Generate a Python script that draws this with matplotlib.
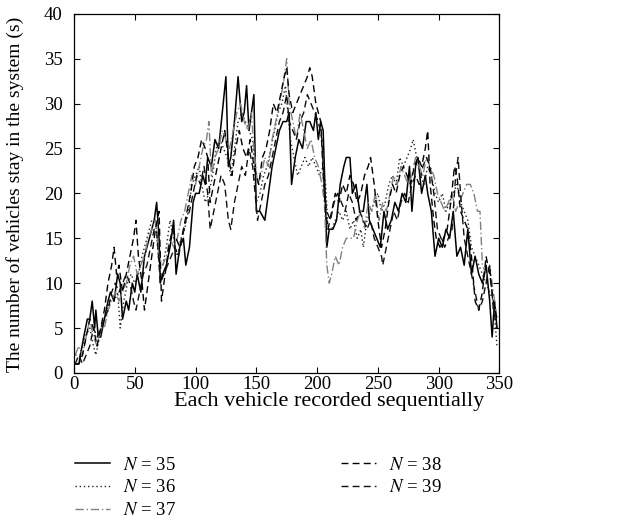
import matplotlib
matplotlib.use("Agg")
import matplotlib.pyplot as plt

plt.rcParams["font.family"] = ["Liberation Serif", "DejaVu Serif"]
plt.rcParams["mathtext.fontset"] = "stix"

# breakpoints (x = vehicle index, y = vehicles in system)
x35 = [1, 4, 8, 11, 13, 15, 17, 18, 20, 22, 25, 28, 30, 33, 36, 38, 40, 43, 45, 48, 50, 52, 55, 58,
       62, 66, 68, 70, 71, 73, 76, 79, 82, 84, 87, 90, 92, 95, 98, 100, 103, 106, 108, 110, 113, 116,
       119, 122, 125, 127, 129, 132, 135, 138, 140, 142, 144, 146, 148, 150, 153, 157, 160, 163, 166,
       169, 172, 175, 177, 179, 182, 185, 188, 191, 194, 197, 199, 201, 203, 205, 208, 210, 213, 216,
       219, 222, 224, 227, 229, 232, 235, 238, 241, 243, 246, 249, 252, 255, 258, 261, 264, 267, 270,
       273, 276, 278, 281, 283, 286, 289, 291, 294, 297, 300, 303, 306, 309, 312, 315, 318, 321, 324,
       327, 330, 333, 336, 339, 342, 344, 346, 348]
y35 = [1, 1, 4, 6, 6, 8, 5, 7, 4, 4, 6, 8, 9, 8, 11, 10, 6, 8, 7, 10, 9, 11, 9, 13,
       15, 17, 19, 15, 10, 11, 12, 14, 17, 11, 14, 15, 12, 14, 19, 20, 20, 22, 21, 24, 23, 26,
       25, 29, 33, 23, 24, 28, 33, 28, 29, 32, 27, 29, 31, 18, 18, 17, 20, 23, 25,
       27, 28, 28, 29, 21, 24, 26, 25, 28, 28, 27, 29, 26, 28, 27, 14, 16, 16, 17,
       21, 23, 24, 24, 20, 21, 18, 18, 21, 17, 16, 15, 14, 18, 16, 17, 19, 18, 20,
       19, 23, 18, 23, 24, 20, 22, 20, 18, 13, 15, 14, 16, 15, 18, 13, 14, 12, 16,
       11, 13, 11, 10, 12, 8, 4, 8, 5]

x36 = [1, 5, 9, 13, 16, 18, 21, 25, 29, 33, 36, 38, 41, 44, 47, 50, 53, 56, 60, 64, 67, 70, 73, 76,
       79, 82, 85, 88, 91, 94, 97, 100, 103, 105, 108, 111, 114, 117, 120, 123, 126, 129, 132, 135,
       138, 141, 144, 147, 150, 153, 156, 159, 162, 165, 168, 171, 174, 176, 178, 181, 184, 187, 190,
       193, 196, 199, 202, 205, 207, 209, 212, 215, 218, 221, 224, 227, 230, 233, 236, 238, 241, 244,
       247, 250, 253, 256, 259, 262, 265, 268, 271, 274, 277, 279, 282, 285, 288, 291, 294, 297, 300,
       303, 306, 309, 312, 315, 318, 321, 324, 327, 330, 333, 336, 339, 342, 345, 348]
y36 = [2, 2, 4, 5, 3, 2, 4, 6, 8, 8, 9, 5, 8, 10, 11, 10, 11, 13, 15, 17, 17, 12, 12, 14,
       17, 15, 13, 15, 16, 18, 21, 22, 23, 21, 19, 20, 22, 25, 26, 25, 24, 22, 25, 28,
       29, 28, 27, 26, 19, 20, 22, 23, 25, 27, 29, 30, 32, 29, 26, 24, 22, 23, 24,
       23, 24, 23, 22, 23, 21, 16, 16, 17, 18, 17, 18, 16, 17, 15, 16, 14, 17, 18,
       19, 20, 18, 19, 21, 22, 21, 24, 23, 24, 25, 26, 24, 22, 21, 23, 22, 20, 19,
       20, 18, 19, 20, 21, 19, 18, 17, 14, 13, 12, 11, 10, 9, 8, 3]

x37 = [1, 4, 7, 10, 13, 16, 19, 22, 25, 28, 31, 34, 37, 40, 43, 46, 49, 52, 55, 58, 61, 64, 67, 70,
       73, 76, 79, 82, 85, 88, 91, 94, 97, 100, 103, 106, 109, 111, 113, 116, 119, 122, 125, 128,
       131, 134, 137, 140, 143, 146, 148, 151, 154, 157, 160, 163, 166, 169, 172, 175, 177, 180, 183,
       186, 189, 192, 195, 198, 201, 204, 206, 208, 210, 212, 215, 218, 221, 224, 227, 230, 233, 236,
       239, 242, 245, 248, 251, 254, 257, 260, 263, 266, 269, 272, 275, 278, 281, 284, 287, 290, 293,
       296, 299, 302, 305, 308, 311, 314, 317, 320, 323, 326, 329, 332, 334, 336, 339, 342, 345, 348]
y37 = [2, 3, 2, 4, 6, 4, 3, 5, 5, 7, 8, 9, 8, 9, 10, 12, 13, 11, 12, 13, 15, 16, 17, 13,
       12, 13, 15, 14, 15, 17, 18, 20, 22, 21, 23, 25, 26, 28, 22, 24, 25, 27, 26, 25,
       27, 29, 30, 28, 27, 29, 25, 21, 22, 24, 23, 26, 28, 30, 32, 35, 30, 28, 26,
       29, 27, 25, 26, 24, 23, 21, 19, 12, 10, 11, 13, 12, 14, 15, 15, 15, 17, 18,
       16, 19, 18, 20, 17, 19, 18, 20, 22, 21, 23, 22, 21, 22, 24, 23, 22, 24, 23,
       22, 20, 19, 18, 19, 20, 18, 19, 20, 21, 21, 20, 18, 18, 12, 11, 12, 9, 6]

x38 = [1, 4, 7, 10, 13, 16, 19, 22, 25, 28, 31, 33, 35, 37, 40, 43, 46, 49, 51, 53, 56, 58, 61, 64,
       67, 70, 72, 75, 78, 81, 84, 87, 90, 93, 96, 99, 102, 105, 108, 110, 112, 115, 118, 121, 124,
       127, 130, 133, 136, 139, 142, 145, 148, 150, 152, 155, 158, 161, 164, 167, 170, 173, 175, 177,
       180, 183, 186, 189, 192, 194, 196, 199, 201, 203, 205, 207, 209, 212, 215, 218, 221, 224, 227,
       230, 233, 236, 239, 242, 244, 247, 250, 253, 256, 259, 262, 265, 268, 271, 274, 277, 280, 283,
       286, 289, 291, 293, 296, 298, 301, 304, 307, 310, 313, 315, 318, 321, 324, 327, 330, 333, 336,
       339, 342, 345, 348]
y38 = [1, 1, 2, 4, 6, 5, 3, 5, 7, 10, 12, 14, 11, 12, 9, 11, 13, 15, 17, 13, 10, 7, 10, 13,
       16, 18, 8, 11, 14, 16, 15, 14, 16, 18, 20, 23, 24, 26, 25, 24, 19, 21, 23, 25, 27,
       24, 22, 25, 27, 25, 24, 26, 23, 22, 21, 24, 25, 27, 30, 29, 31, 33, 34, 31,
       29, 30, 31, 32, 33, 34, 33, 30, 29, 28, 22, 18, 16, 18, 20, 19, 21, 20, 22,
       21, 19, 20, 22, 23, 24, 21, 17, 14, 16, 19, 21, 20, 22, 23, 22, 21, 23, 24,
       23, 25, 27, 21, 17, 15, 14, 15, 16, 19, 23, 22, 18, 17, 16, 13, 8, 7, 9,
       13, 11, 8, 6]

x39 = [1, 4, 7, 10, 13, 16, 19, 22, 25, 28, 31, 34, 37, 40, 43, 46, 49, 51, 54, 57, 60, 63, 66, 68,
       71, 74, 77, 80, 83, 86, 89, 92, 95, 98, 101, 104, 107, 110, 112, 115, 118, 121, 124, 127, 129,
       132, 135, 138, 141, 144, 147, 149, 151, 154, 157, 160, 163, 166, 169, 172, 175, 177, 180, 183,
       186, 189, 192, 195, 198, 201, 204, 206, 208, 211, 214, 217, 220, 223, 226, 229, 232, 235, 238,
       241, 244, 247, 250, 253, 254, 257, 260, 263, 266, 269, 272, 275, 278, 281, 284, 287, 290, 293,
       296, 299, 302, 305, 308, 311, 314, 316, 318, 321, 324, 327, 330, 333, 336, 339, 342, 345, 348]
y39 = [1, 2, 1, 2, 3, 5, 4, 5, 6, 7, 9, 10, 9, 10, 11, 10, 8, 7, 9, 11, 12, 14, 16, 16,
       10, 11, 12, 13, 14, 13, 15, 17, 18, 20, 22, 21, 23, 20, 16, 18, 20, 22, 21, 17, 16,
       19, 21, 23, 22, 25, 23, 20, 17, 19, 21, 22, 24, 26, 28, 29, 31, 28, 27, 26,
       28, 29, 31, 30, 29, 28, 26, 20, 18, 17, 19, 20, 19, 18, 20, 19, 17, 18, 17,
       16, 17, 15, 14, 13, 12, 14, 16, 18, 17, 19, 20, 19, 21, 22, 21, 23, 24, 23,
       20, 16, 15, 14, 15, 16, 22, 24, 20, 15, 13, 11, 9, 7, 8, 10, 12, 7, 5]

labels = ["$N$ = 35", "$N$ = 36", "$N$ = 37", "$N$ = 38", "$N$ = 39"]

fig = plt.figure(figsize=(6.35, 5.32), dpi=100)
ax = fig.add_axes([0.1165, 0.299, 0.670, 0.675])

ax.plot(x35, y35, color="black", lw=1.1, ls="-", label=labels[0])
ax.plot(x36, y36, color="#222222", lw=1.0, ls=(0, (1, 2)), label=labels[1])
ax.plot(x37, y37, color="#808080", lw=1.0, ls=(0, (6, 2, 1, 2)), label=labels[2])
ax.plot(x38, y38, color="black", lw=1.0, ls=(0, (5, 3)), label=labels[3])
ax.plot(x39, y39, color="#111111", lw=1.0, ls=(0, (5, 3)), label=labels[4])

ax.set_xlim(0, 350)
ax.set_ylim(0, 40)
ax.set_xticks(range(0, 351, 50))
ax.set_yticks(range(0, 41, 5))
ax.tick_params(direction="in", top=True, right=True, labelsize=13.5, length=4)
ax.tick_params(axis="x", pad=2.5)
ax.tick_params(axis="y", pad=8)
for s in ax.spines.values():
    s.set_linewidth(0.9)

ax.set_xlabel("Each vehicle recorded sequentially", fontsize=16)
ax.set_ylabel("The number of vehicles stay in the system (s)", fontsize=14)
ax.xaxis.set_label_coords(0.6, -0.053)
ax.yaxis.set_label_coords(-0.118, 0.496)

fig.legend(loc="upper left", bbox_to_anchor=(0.106, 0.156), ncol=2, frameon=False,
           fontsize=13.5, handlelength=1.9, handletextpad=0.65, columnspacing=8.8,
           labelspacing=0.3, borderaxespad=0)

fig.savefig("out.png", dpi=100)
